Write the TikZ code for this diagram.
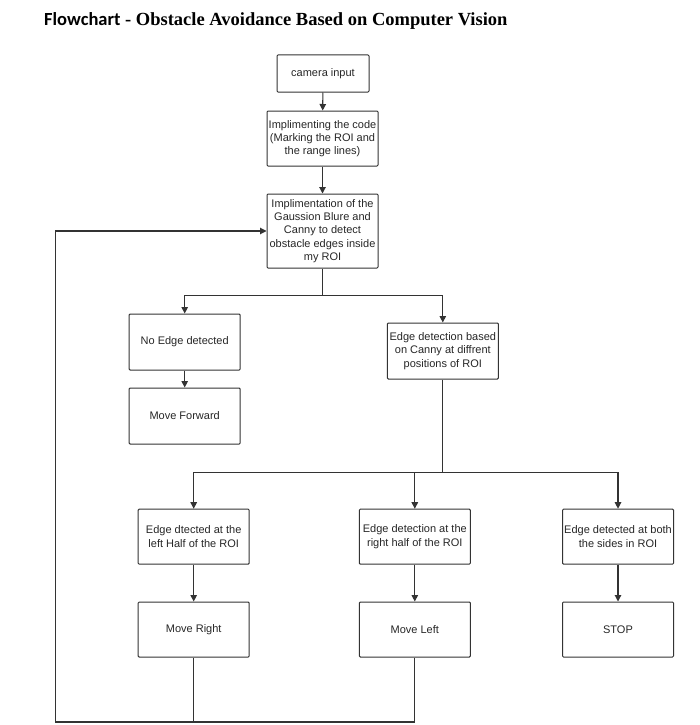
\documentclass[tikz,border=0pt]{standalone}
\usepackage{fontspec}
\setmainfont{Liberation Serif}
\newfontfamily\boxfont{Liberation Sans}
\newfontfamily\headsans{Carlito}
\usetikzlibrary{arrows.meta}

\begin{document}
\begin{tikzpicture}[x=1pt,y=1pt,
  stepbox/.style={draw=black!80, line width=1pt, rounded corners=1pt,
    minimum width=111pt, minimum height=56pt, inner sep=0pt, align=center,
    text=black!85, font=\boxfont\fontsize{11}{13.3}\selectfont},
  link/.style={draw=black!80, line width=1.1pt},
  flow/.style={link, -{Triangle[length=6.5pt,width=6.5pt]}}]

\useasboundingbox (0,0) rectangle (700,-725);

% heading
\node[anchor=base west, inner sep=0pt] (title) at (44,-25.5)
  {\headsans\bfseries\fontsize{18.5}{20}\selectfont Flowchart\fontspec{Liberation Serif}\bfseries\fontsize{18.5}{20}\selectfont{} - Obstacle Avoidance Based on Computer Vision};

% main column
\node[stepbox, minimum width=92pt, minimum height=37pt] (cam) at (323,-73.5) {camera input};
\node[stepbox, minimum height=55pt] (impl) at (322.5,-138.5)
  {Implimenting the code\\(Marking the ROI and\\the range lines)};
\node[stepbox, minimum height=74pt] (gauss) at (322.5,-231)
  {Implimentation of the\\Gaussion Blure and\\Canny to detect\\obstacle edges inside\\my ROI};

% first branch
\node[stepbox] (noedge) at (184.7,-342) {No Edge detected};
\node[stepbox] (fwd) at (184.7,-416) {Move Forward};
\node[stepbox] (canny) at (442.8,-351)
  {Edge detection based\\on Canny at diffrent\\positions of ROI};

% second branch
\node[stepbox, minimum height=55pt] (left) at (193.7,-536.7)
  {Edge dtected at the\\left Half of the ROI};
\node[stepbox, minimum height=55pt] (right) at (414.8,-536.7)
  {Edge detection at the\\right half of the ROI};
\node[stepbox, minimum height=55pt] (both) at (618,-536.7)
  {Edge detected at both\\the sides in ROI};
\node[stepbox, minimum height=55pt] (mr) at (193.7,-629.5) {Move Right};
\node[stepbox, minimum height=55pt] (ml) at (414.8,-629.5) {Move Left};
\node[stepbox, minimum height=55pt] (stop) at (618,-629.5) {STOP};

% junctions
\coordinate (j1) at (322.5,-295.7);
\coordinate (j2) at (442.8,-472.3);
\coordinate (loop) at (55.7,-722);

% connectors
\draw[flow] (cam) -- (impl);
\draw[flow] (impl) -- (gauss);
\draw[link] (gauss.south) -- (j1);
\draw[flow] (j1) -| (noedge.north);
\draw[flow] (j1) -| (canny.north);
\draw[flow] (noedge) -- (fwd);
\draw[link] (canny.south) -- (j2);
\draw[flow] (j2) -| (left.north);
\draw[flow] (j2) -| (right.north);
\draw[flow] (j2) -| (both.north);
\draw[flow] (left) -- (mr);
\draw[flow] (right) -- (ml);
\draw[flow] (both) -- (stop);
\draw[link] (mr.south) -- (mr.south |- loop);
\draw[flow] (ml.south) |- (loop) |- (gauss.west);

\end{tikzpicture}
\end{document}
